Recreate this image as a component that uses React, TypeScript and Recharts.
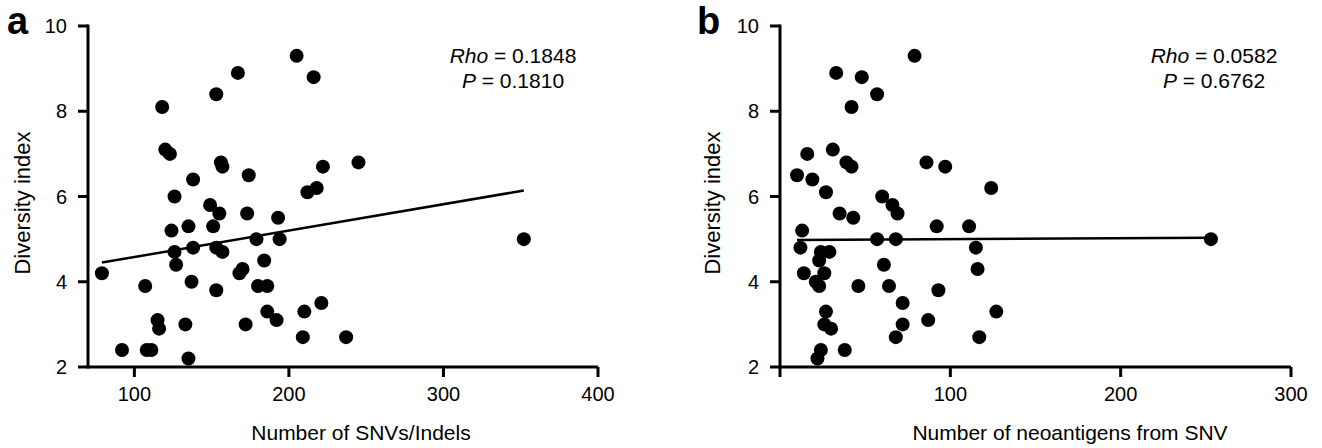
import React from 'react';
import { ScatterChart, Scatter, XAxis, YAxis, ReferenceLine } from 'recharts';

// panel a: number of SNVs/indels vs diversity index
const snvCounts = [
  118, 120, 123, 126, 138, 153, 167, 156, 157, 174, 149, 155, 173, 193, 205, 216, 222, 212,
  218, 245, 124, 135, 151, 126, 138, 153, 157, 179, 194, 79, 127, 168, 170, 184, 107, 137,
  153, 180, 186, 186, 192, 172, 115, 116, 133, 92, 108, 111, 135, 210, 221, 209, 237, 352,
];
const snvDiversity = [
  8.1, 7.1, 7.0, 6.0, 6.4, 8.4, 8.9, 6.8, 6.7, 6.5, 5.8, 5.6, 5.6, 5.5, 9.3, 8.8, 6.7, 6.1,
  6.2, 6.8, 5.2, 5.3, 5.3, 4.7, 4.8, 4.8, 4.7, 5.0, 5.0, 4.2, 4.4, 4.2, 4.3, 4.5, 3.9, 4.0,
  3.8, 3.9, 3.9, 3.3, 3.1, 3.0, 3.1, 2.9, 3.0, 2.4, 2.4, 2.4, 2.2, 3.3, 3.5, 2.7, 2.7, 5.0,
];

// panel b: number of neoantigens from SNV vs diversity index
const neoCounts = [
  79, 33, 48, 57, 42, 10, 16, 19, 27, 31, 39, 42, 35, 43, 60, 66, 69, 86, 97, 124, 13, 92,
  111, 12, 24, 29, 23, 14, 26, 21, 23, 46, 57, 68, 61, 64, 72, 93, 87, 72, 68, 27, 26, 30,
  24, 22, 38, 115, 116, 117, 127, 253,
];
const neoDiversity = [
  9.3, 8.9, 8.8, 8.4, 8.1, 6.5, 7.0, 6.4, 6.1, 7.1, 6.8, 6.7, 5.6, 5.5, 6.0, 5.8, 5.6, 6.8,
  6.7, 6.2, 5.2, 5.3, 5.3, 4.8, 4.7, 4.7, 4.5, 4.2, 4.2, 4.0, 3.9, 3.9, 5.0, 5.0, 4.4, 3.9,
  3.5, 3.8, 3.1, 3.0, 2.7, 3.3, 3.0, 2.9, 2.4, 2.2, 2.4, 4.8, 4.3, 2.7, 3.3, 5.0,
];

// fitted lines (end points)
const snvFitX = [79, 352];
const snvFitY = [4.45, 6.14];
const neoFitX = [10, 253];
const neoFitY = [4.98, 5.03];

const yTicks = [2, 4, 6, 8, 10];
const yDomain: [number, number] = [2, 10];
const snvTicks = [100, 200, 300, 400];
const neoTicks = [0, 100, 200, 300];

const toPoints = (xs: number[], ys: number[]) => xs.map((x, i) => ({ x, y: ys[i] }));

const FONT = '"Liberation Sans", Arial, sans-serif';
const TICK = 10;
const GAP = 10;
const AXIS_W = 3;

const Dot = (props: any) => <circle cx={props.cx} cy={props.cy} r={7} fill="#000" />;

// tick mark + label drawn together so the mark can be thick
const XTick = (props: any) => {
  const { x, y, payload } = props;
  const base = y - TICK - GAP;
  const v = payload.value;
  return (
    <g>
      <line x1={x} x2={x} y1={base} y2={base + TICK} stroke="#000" strokeWidth={AXIS_W} />
      {v !== 0 && (
        <text x={x} y={base + TICK + GAP} dy="0.72em" textAnchor="middle" fontSize={20} fill="#000">
          {v}
        </text>
      )}
    </g>
  );
};

const YTick = (props: any) => {
  const { x, y, payload } = props;
  const base = x + TICK + GAP + 1;
  return (
    <g>
      <line x1={base - TICK} x2={base} y1={y} y2={y} stroke="#000" strokeWidth={AXIS_W} />
      <text x={base - TICK - GAP - 1} y={y} dy="0.36em" textAnchor="end" fontSize={20} fill="#000">
        {payload.value}
      </text>
    </g>
  );
};

interface PanelProps {
  letter: string;
  letterX: number;
  xs: number[];
  ys: number[];
  fitX: number[];
  fitY: number[];
  xDomain: [number, number];
  xTicks: number[];
  xTitle: string;
  xTitleX: number;
  yTitleX: number;
  rho: string;
  p: string;
  statsX: number;
  yAxisWidth: number;
  marginRight: number;
}

const Panel = ({
  letter, letterX, xs, ys, fitX, fitY, xDomain, xTicks, xTitle, xTitleX, yTitleX,
  rho, p, statsX, yAxisWidth, marginRight,
}: PanelProps) => {
  const data = toPoints(xs, ys);
  const fit = toPoints(fitX, fitY);
  return (
    <ScatterChart
      width={661}
      height={448}
      margin={{ top: 26, right: marginRight, bottom: 0, left: 0 }}
    >
      <XAxis
        type="number"
        dataKey="x"
        domain={xDomain}
        ticks={xTicks}
        allowDataOverflow
        interval={0}
        height={81}
        axisLine={false}
        tickLine={false}
        tickSize={TICK}
        tickMargin={GAP}
        tick={XTick}
        label={() => (
          <text x={xTitleX} y={440} textAnchor="middle" fontSize={21} fill="#000">
            {xTitle}
          </text>
        )}
      />
      <YAxis
        type="number"
        dataKey="y"
        domain={yDomain}
        ticks={yTicks}
        allowDataOverflow
        interval={0}
        width={yAxisWidth}
        axisLine={false}
        tickLine={false}
        tickSize={TICK}
        tickMargin={GAP + 1}
        tick={YTick}
        label={() => (
          <g fill="#000">
            <text
              transform={`translate(${yTitleX},203) rotate(-90)`}
              textAnchor="middle"
              dy="0.36em"
              fontSize={22}
            >
              Diversity index
            </text>
            <text x={letterX} y={34} fontSize={38} fontWeight="bold">
              {letter}
            </text>
            <text x={statsX} y={63} textAnchor="middle" fontSize={21}>
              <tspan fontStyle="italic">Rho</tspan>
              {' = ' + rho}
            </text>
            <text x={statsX} y={88} textAnchor="middle" fontSize={21}>
              <tspan fontStyle="italic">P</tspan>
              {' = ' + p}
            </text>
          </g>
        )}
      />
      <Scatter data={data} shape={Dot} isAnimationActive={false} />
      <ReferenceLine segment={fit} stroke="#000" strokeWidth={2.5} ifOverflow="visible" />
      {/* axis lines */}
      <ReferenceLine
        segment={[{ x: xDomain[0], y: yDomain[0] }, { x: xDomain[1], y: yDomain[0] }]}
        stroke="#000"
        strokeWidth={AXIS_W}
        ifOverflow="visible"
      />
      <ReferenceLine
        segment={[{ x: xDomain[0], y: yDomain[0] }, { x: xDomain[0], y: yDomain[1] }]}
        stroke="#000"
        strokeWidth={AXIS_W}
        strokeLinecap="square"
        ifOverflow="visible"
      />
    </ScatterChart>
  );
};

export default function App() {
  return (
    <div
      style={{
        position: 'absolute',
        left: 0,
        top: 0,
        width: 1322,
        height: 448,
        display: 'flex',
        background: '#fff',
        fontFamily: FONT,
      }}
    >
      <Panel
        letter="a"
        letterX={7}
        xs={snvCounts}
        ys={snvDiversity}
        fitX={snvFitX}
        fitY={snvFitY}
        xDomain={[70, 400]}
        xTicks={snvTicks}
        xTitle="Number of SNVs/Indels"
        xTitleX={361}
        yTitleX={22}
        rho="0.1848"
        p="0.1810"
        statsX={513}
        yAxisWidth={88}
        marginRight={63}
      />
      <Panel
        letter="b"
        letterX={36}
        xs={neoCounts}
        ys={neoDiversity}
        fitX={neoFitX}
        fitY={neoFitY}
        xDomain={[0, 300]}
        xTicks={neoTicks}
        xTitle="Number of neoantigens from SNV"
        xTitleX={409}
        yTitleX={51}
        rho="0.0582"
        p="0.6762"
        statsX={553}
        yAxisWidth={119}
        marginRight={31}
      />
    </div>
  );
}
